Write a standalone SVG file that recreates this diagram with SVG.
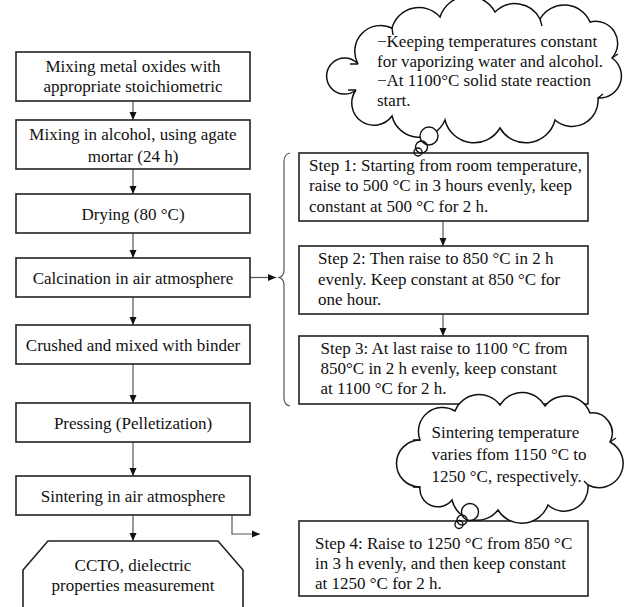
<svg xmlns="http://www.w3.org/2000/svg" width="638" height="607" viewBox="0 0 638 607">
<style>
.box{fill:#fff;stroke:#222;stroke-width:1.6}
.t{font-family:"Liberation Serif","Times New Roman",serif;font-size:17px;fill:#111}
.m{text-anchor:middle}
.c{stroke:#555;stroke-width:1.2;fill:none}
.cl{fill:#fff;stroke:#111;stroke-width:1.5}
.bub{fill:none;stroke:#111;stroke-width:1.4}
</style>
<defs>
<marker id="ah" markerUnits="userSpaceOnUse" markerWidth="9" markerHeight="8" refX="8" refY="4" orient="auto">
<path d="M0,0.5 L8,4 L0,7.5 z" fill="#111"/>
</marker>
</defs>
<rect width="638" height="607" fill="#fff"/>

<g id="connectors">
<line class="c" x1="133" y1="101" x2="133" y2="120" marker-end="url(#ah)"/>
<line class="c" x1="133" y1="169" x2="133" y2="194" marker-end="url(#ah)"/>
<line class="c" x1="133" y1="233" x2="133" y2="258" marker-end="url(#ah)"/>
<line class="c" x1="133" y1="297" x2="133" y2="325" marker-end="url(#ah)"/>
<line class="c" x1="133" y1="364" x2="133" y2="403" marker-end="url(#ah)"/>
<line class="c" x1="133" y1="442" x2="133" y2="476" marker-end="url(#ah)"/>
<line class="c" x1="133" y1="515" x2="133" y2="541" marker-end="url(#ah)"/>
<line class="c" x1="250" y1="277.5" x2="276" y2="277.5" marker-end="url(#ah)"/>
<line class="c" x1="443" y1="221" x2="443" y2="246" marker-end="url(#ah)"/>
<line class="c" x1="443" y1="314" x2="443" y2="336" marker-end="url(#ah)"/>
<path class="c" d="M232 515 V534 H260" marker-end="url(#ah)"/>
<path class="c" d="M290 153 Q284 154 284 162 L284 270 Q284 276 279 277.5 Q284 279 284 285 L284 398 Q284 405 290 406"/>
</g>

<g id="n1"><rect class="box" x="16" y="52" width="234" height="49"/>
<text class="t m" x="133" y="72">Mixing metal oxides with</text>
<text class="t m" x="133" y="92">appropriate stoichiometric</text></g>
<g id="n2"><rect class="box" x="16" y="120" width="234" height="49"/>
<text class="t m" x="133" y="140">Mixing in alcohol, using agate</text>
<text class="t m" x="133" y="161.5">mortar (24 h)</text></g>
<g id="n3"><rect class="box" x="16" y="194" width="234" height="39"/>
<text class="t m" x="133" y="219.5">Drying (80 °C)</text></g>
<g id="n4"><rect class="box" x="16" y="258" width="234" height="39"/>
<text class="t m" x="133" y="283.5">Calcination in air atmosphere</text></g>
<g id="n5"><rect class="box" x="16" y="325" width="234" height="39"/>
<text class="t m" x="133" y="350.5">Crushed and mixed with binder</text></g>
<g id="n6"><rect class="box" x="16" y="403" width="234" height="39"/>
<text class="t m" x="133" y="428.5">Pressing (Pelletization)</text></g>
<g id="n7"><rect class="box" x="16" y="476" width="234" height="39"/>
<text class="t m" x="133" y="501.5">Sintering in air atmosphere</text></g>
<g id="n8"><polygon class="box" points="48,541 218,541 243,570 243,640 23,640 23,570"/>
<text class="t m" x="133" y="571">CCTO, dielectric</text>
<text class="t m" x="133" y="591">properties measurement</text></g>

<g id="s1"><rect class="box" x="299" y="153" width="289" height="68"/>
<text class="t" x="309" y="170.5">Step 1: Starting from room temperature,</text>
<text class="t" x="309" y="191">raise to 500 °C in 3 hours evenly, keep</text>
<text class="t" x="309" y="211.5">constant at 500 °C for 2 h.</text></g>
<g id="s2"><rect class="box" x="299" y="246" width="289" height="68"/>
<text class="t" x="318" y="263.5">Step 2: Then raise to 850 °C in 2 h</text>
<text class="t" x="318" y="284.5">evenly. Keep constant at 850 °C for</text>
<text class="t" x="318" y="304.5">one hour.</text></g>
<g id="s3"><rect class="box" x="299" y="336" width="289" height="68"/>
<text class="t" x="320.5" y="353.5">Step 3: At last raise to 1100 °C from</text>
<text class="t" x="320.5" y="374">850°C in 2 h evenly, keep constant</text>
<text class="t" x="320.5" y="394">at 1100 °C for 2 h.</text></g>
<g id="s4"><rect class="box" x="299" y="521" width="289" height="75"/>
<text class="t" x="315" y="548.5">Step 4: Raise to 1250 °C from 850 °C</text>
<text class="t" x="315" y="568.5">in 3 h evenly, and then keep constant</text>
<text class="t" x="315" y="588.5">at 1250 °C for 2 h.</text></g>

<g id="cloud1">
<path class="cl" d="M358 64 A26 26 0 0 1 392 28 A28 28 0 0 1 440 17 A30 30 0 0 1 495 12 A28 28 0 0 1 540 19 A28 28 0 0 1 590 22 A22 22 0 0 1 612 58 A22 22 0 0 1 598 98 A26 26 0 0 1 555 120 A30 30 0 0 1 500 128 A30 30 0 0 1 445 120 A28 28 0 0 1 392 116 A22 22 0 0 1 356 90 A18 18 0 1 1 358 64 Z"/>
<path class="bub" d="M358 64 L350 64 M356 90 L348 90 M612 58 L618 54 M598 98 L603 94 M540 19 L542 26 M392 28 L393 35"/>
<circle cx="429" cy="136" r="9" fill="#fff" stroke="#111" stroke-width="1.4"/>
<circle class="bub" cx="421.5" cy="147" r="6"/>
<circle class="bub" cx="418" cy="152" r="4"/>
<text class="t" x="377" y="47">−Keeping temperatures constant</text>
<text class="t" x="377" y="66.5">for vaporizing water and alcohol.</text>
<text class="t" x="377" y="86">−At 1100°C solid state reaction</text>
<text class="t" x="377" y="105.5">start.</text>
</g>

<g id="cloud2">
<path class="cl" d="M420 440 A24 24 0 0 1 455 411 A26 26 0 0 1 500 405 A26 26 0 0 1 545 406 A26 26 0 0 1 590 413 A20 20 0 0 1 610 442 A20 20 0 0 1 588 485 A24 24 0 0 1 548 505 A28 28 0 0 1 498 510 A26 26 0 0 1 452 500 A18 18 0 0 1 420 487 A14 14 0 1 1 420 440 Z"/>
<path class="bub" d="M420 440 L413 440 M420 487 L413 487 M610 442 L616 438 M588 485 L584 481"/>
<circle cx="470" cy="512" r="8.5" fill="#fff" stroke="#111" stroke-width="1.4"/>
<circle class="bub" cx="462" cy="520" r="5"/>
<circle class="bub" cx="459" cy="524.5" r="4"/>
<text class="t" x="431.5" y="437.5">Sintering temperature</text>
<text class="t" x="431.5" y="459.5">varies ffom 1150 °C to</text>
<text class="t" x="431.5" y="481.5">1250 °C, respectively.</text>
</g>
</svg>
